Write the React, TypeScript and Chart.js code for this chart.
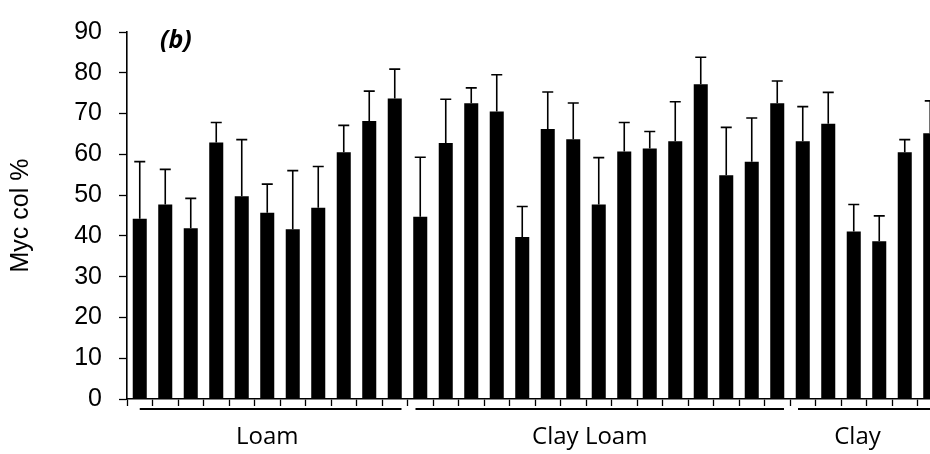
import React, { useEffect, useRef } from "react";
import { Chart, registerables } from "chart.js";

Chart.register(...registerables);

// ---- data ----
const loamMeans = [44.2, 47.7, 41.9, 62.9, 49.7, 45.7, 41.6, 46.9, 60.5, 68.2, 73.7];
const loamErrors = [14.0, 8.6, 7.3, 4.9, 13.9, 7.0, 14.4, 10.1, 6.6, 7.3, 7.2];
const clayLoamMeans = [44.7, 62.8, 72.5, 70.5, 39.7, 66.2, 63.7, 47.7, 60.7, 61.4, 63.2, 77.2, 54.9, 58.2, 72.5];
const clayLoamErrors = [14.6, 10.7, 3.8, 9.0, 7.5, 9.1, 8.9, 11.5, 7.1, 4.2, 9.7, 6.6, 11.7, 10.7, 5.5];
const clayMeans = [63.2, 67.5, 41.1, 38.7, 60.5, 65.2];
const clayErrors = [8.5, 7.7, 6.6, 6.2, 3.1, 7.9];

const groupNames = ["Loam", "Clay Loam", "Clay"];
const groupMeans = [loamMeans, clayLoamMeans, clayMeans];
const groupErrors = [loamErrors, clayLoamErrors, clayErrors];

const yMin = 0;
const yMax = 90;
const yStep = 10;
const yTitle = "Myc col %";
const panelLabel = "(b)";

const categories: string[] = groupNames.flatMap((g, gi) =>
  groupMeans[gi].map((_, i) => `${g} ${i + 1}`)
);
const means: number[] = groupMeans.flat();
const errors: number[] = groupErrors.flat();

const overlayPlugin = {
  id: "overlay",
  afterDatasetsDraw(chart: any) {
    const ctx = chart.ctx as CanvasRenderingContext2D;
    const xs = chart.scales.x;
    const ys = chart.scales.y;
    const meta = chart.getDatasetMeta(0);
    ctx.save();
    // error bars (upper only)
    ctx.strokeStyle = "#000";
    ctx.lineWidth = 1.6;
    meta.data.forEach((bar: any, i: number) => {
      const top = ys.getPixelForValue(means[i] + errors[i]);
      ctx.beginPath();
      ctx.moveTo(bar.x, bar.y);
      ctx.lineTo(bar.x, top);
      ctx.moveTo(bar.x - 5.5, top);
      ctx.lineTo(bar.x + 5.5, top);
      ctx.stroke();
    });
    // group lines + labels
    const half = (xs.getPixelForValue(1) - xs.getPixelForValue(0)) / 2;
    const lineY = chart.chartArea.bottom + 10;
    let start = 0;
    groupMeans.forEach((arr, gi) => {
      const end = start + arr.length - 1;
      const left = xs.getPixelForValue(start) - half;
      const right = xs.getPixelForValue(end) + half;
      const x0 = gi === 0 ? left + half : left + 8;
      const x1 = right - 6;
      ctx.lineWidth = 2.2;
      ctx.beginPath();
      ctx.moveTo(x0, lineY);
      ctx.lineTo(x1, lineY);
      ctx.stroke();
      ctx.fillStyle = "#000";
      ctx.font = "24px 'Open Sans', Lato, sans-serif";
      ctx.textAlign = "center";
      ctx.textBaseline = "middle";
      ctx.fillText(groupNames[gi], (left + right) / 2 - (gi === 0 ? 0 : 9), lineY + 28);
      start = end + 1;
    });
    // panel label
    ctx.font = "italic bold 25px 'Open Sans', Lato, sans-serif";
    ctx.textAlign = "left";
    ctx.textBaseline = "middle";
    ctx.fillText(panelLabel, chart.chartArea.left + 33, chart.chartArea.top + 9);
    ctx.restore();
  },
};

export default function App() {
  const ref = useRef<HTMLCanvasElement | null>(null);
  useEffect(() => {
    if (!ref.current) return;
    const chart = new Chart(ref.current, {
      type: "bar",
      data: {
        labels: categories,
        datasets: [
          {
            data: means,
            backgroundColor: "#000",
            borderWidth: 0,
            categoryPercentage: 1,
            barPercentage: 0.55,
          },
        ],
      },
      options: {
        responsive: false,
        animation: false,
        layout: { padding: { top: 22, right: 0, left: 0, bottom: 0 } },
        plugins: {
          legend: { display: false },
          tooltip: { enabled: false },
          title: { display: false },
        },
        scales: {
          x: {
            type: "category",
            offset: true,
            grid: {
              offset: true,
              drawOnChartArea: false,
              drawTicks: true,
              tickLength: 7,
              tickColor: "#000",
              tickWidth: 1.3,
            },
            border: { display: true, color: "#000", width: 1.6 },
            ticks: { display: false },
            afterFit: (s: any) => {
              s.height = 55;
            },
          },
          y: {
            min: yMin,
            max: yMax,
            grid: {
              drawOnChartArea: false,
              drawTicks: true,
              tickLength: 8,
              tickColor: "#000",
              tickWidth: 1.3,
            },
            border: { display: true, color: "#000", width: 1.6 },
            ticks: {
              stepSize: yStep,
              color: "#000",
              padding: 17,
              font: { family: "'Liberation Sans', Arial, sans-serif", size: 25 },
            },
            title: {
              display: true,
              text: yTitle,
              color: "#000",
              padding: { top: 6, bottom: 0 },
              font: { family: "'Liberation Sans', Arial, sans-serif", size: 25 },
            },
            afterFit: (s: any) => {
              s.width = 127;
            },
          },
        },
      },
      plugins: [overlayPlugin],
    });
    return () => chart.destroy();
  }, []);
  return (
    <div
      style={{
        position: "fixed",
        left: 0,
        top: 0,
        width: 930,
        height: 454,
        overflow: "hidden",
        background: "#fff",
      }}
    >
      <canvas ref={ref} width={943} height={454} style={{ display: "block" }} />
    </div>
  );
}
